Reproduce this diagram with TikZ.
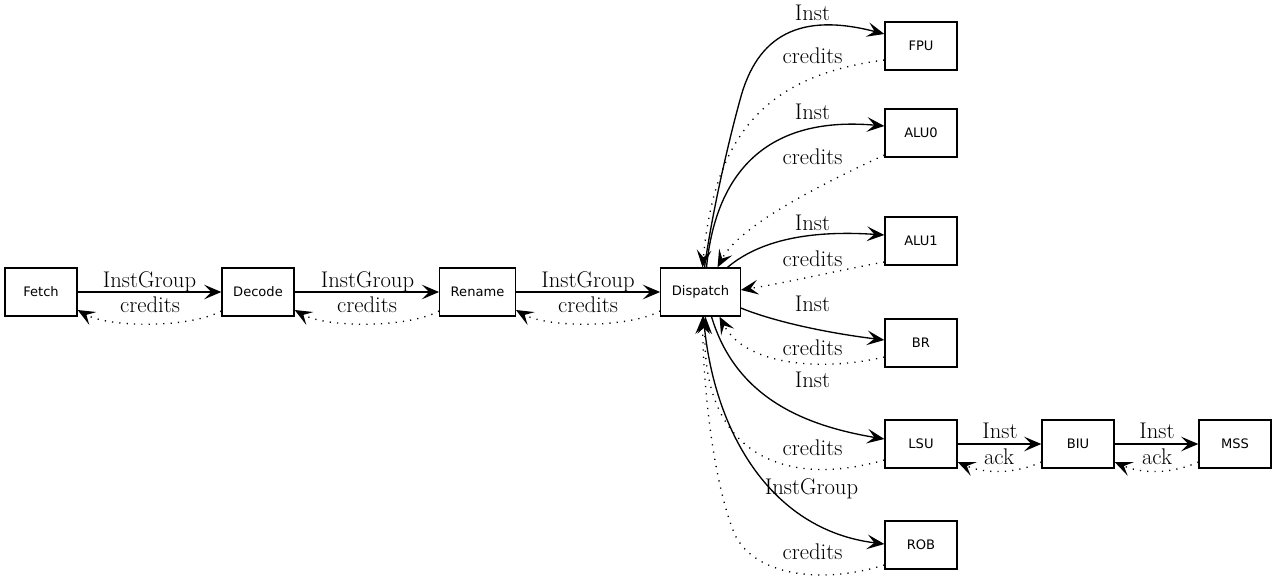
\documentclass[tikz,border=0pt]{standalone}
\usepackage{fontspec}
\newfontfamily\boxfont{DejaVu Sans}
\usetikzlibrary{arrows.meta}
\usetikzlibrary{calc}

\begin{document}
\begin{tikzpicture}[x=0.75pt,y=-0.75pt,
    unit/.style={draw, line width=1pt, minimum width=54pt, minimum height=36pt,
      inner xsep=8.25pt, font=\boxfont\fontsize{9.8}{12}\selectfont},
    flow/.style={line width=1pt, -{Stealth[length=13pt,width=11pt,inset=5.5pt]}},
    back/.style={flow, dash pattern=on 0.9pt off 4.6pt},
    lbl/.style={font=\fontsize{17}{20}\selectfont, inner sep=0pt, anchor=base}]
  \useasboundingbox (0,0) rectangle (1277,586);

  % pipeline
  \node[unit] (fetch) at (41,292) {Fetch};
  \node[unit] (decode) at (258,292) {Decode};
  \node[unit] (rename) at (477.5,292) {Rename};
  \node[unit] (dispatch) at (700.5,292) {Dispatch};

  % execution units
  \node[unit] (fpu) at (921,46) {FPU};
  \node[unit] (alu0) at (921,133) {ALU0};
  \node[unit] (alu1) at (921,241) {ALU1};
  \node[unit] (br) at (921,343) {BR};
  \node[unit] (lsu) at (921,444) {LSU};
  \node[unit] (rob) at (921,545) {ROB};

  \node[unit] (biu) at (1078,444) {BIU};
  \node[unit] (mss) at (1235,444) {MSS};

  \draw[flow] (fetch) -- (decode) node[lbl] at (149.5,287) {InstGroup};
  \draw[back] ($(decode.west)+(0,19)$) .. controls (190,328) and (110,328) .. ($(fetch.east)+(0,18)$)
    node[lbl] at (150,312) {credits};
  \draw[flow] (decode) -- (rename) node[lbl] at (367.5,287) {InstGroup};
  \draw[back] ($(rename.west)+(0,19)$) .. controls (408,328) and (327,328) .. ($(decode.east)+(0,18)$)
    node[lbl] at (367,312) {credits};
  \draw[flow] (rename) -- (dispatch) node[lbl] at (588,287) {InstGroup};
  \draw[back] ($(dispatch.west)+(0,19)$) .. controls (629,328) and (548,328) .. ($(rename.east)+(0,18)$)
    node[lbl] at (588,312) {credits};

  % dispatch <-> units
  \draw[flow] ($(dispatch.north)+(4,0)$) .. controls (714,200) and (733,125) .. (740,100)
    .. controls (757,35) and (800,12) .. ($(fpu.west)+(0,-12)$)
    node[lbl] at (812.5,20) {Inst};
  \draw[back] ($(fpu.west)+(0,14)$) .. controls (770,75) and (715,130) .. ($(dispatch.north)+(2,0)$)
    node[lbl] at (812.5,63) {credits};

  \draw[flow] ($(dispatch.north)+(6,0)$) .. controls (715,180) and (760,115) .. ($(alu0.west)+(0,-7)$)
    node[lbl] at (812.5,119) {Inst};
  \draw[back] ($(alu0.west)+(0,22)$) .. controls (820,185) and (740,225) .. ($(dispatch.north)+(17,0)$)
    node[lbl] at (812.5,164) {credits};

  \draw[flow] ($(dispatch.north)+(27,0)$) .. controls (760,240) and (810,230) .. ($(alu1.west)+(0,-6)$)
    node[lbl] at (812.5,230) {Inst};
  \draw[back] ($(alu1.west)+(0,21)$) .. controls (840,270) and (790,282) .. ($(dispatch.east)+(0,-2)$)
    node[lbl] at (812.5,266) {credits};

  \draw[flow] ($(dispatch.east)+(0,16)$) .. controls (770,320) and (820,332) .. ($(br.west)+(0,-3)$)
    node[lbl] at (812.5,311) {Inst};
  \draw[back] ($(br.west)+(0,14)$) .. controls (820,372) and (745,365) .. ($(dispatch.south)+(19,0)$)
    node[lbl] at (812.5,355) {credits};

  \draw[flow] ($(dispatch.south)+(11,0)$) .. controls (735,395) and (800,425) .. ($(lsu.west)+(0,-5)$)
    node[lbl] at (812.5,387) {Inst};
  \draw[back] ($(lsu.west)+(0,16)$) .. controls (780,490) and (700,450) .. ($(dispatch.south)+(5,0)$)
    node[lbl] at (812.5,455) {credits};

  \draw[flow] ($(dispatch.south)+(3,0)$) .. controls (712,430) and (770,530) .. ($(rob.west)+(0,-1)$)
    node[lbl] at (811.5,494) {InstGroup};
  \draw[back] ($(rob.west)+(0,20)$) .. controls (820,585) and (755,575) .. (735,535)
    .. controls (712,480) and (703,380) .. ($(dispatch.south)+(2,0)$)
    node[lbl] at (812.5,559) {credits};

  % memory side
  \draw[flow] (lsu) -- (biu) node[lbl] at (1000,438) {Inst};
  \draw[back] ($(biu.west)+(0,18)$) .. controls (1015,474) and (985,474) .. ($(lsu.east)+(0,18)$)
    node[lbl] at (999,464) {ack};
  \draw[flow] (biu) -- (mss) node[lbl] at (1157,438) {Inst};
  \draw[back] ($(mss.west)+(0,18)$) .. controls (1172,474) and (1142,474) .. ($(biu.east)+(0,18)$)
    node[lbl] at (1157,464) {ack};
\end{tikzpicture}
\end{document}
